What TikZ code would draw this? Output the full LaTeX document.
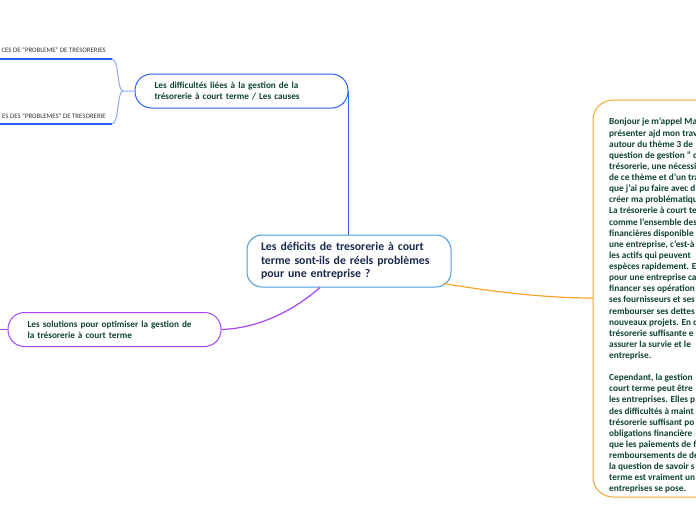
\documentclass[tikz,border=0pt]{standalone}
\usepackage{fontspec}
\setmainfont{Carlito}
\usetikzlibrary{calc}
\definecolor{cblue}{HTML}{4A9ADB}
\definecolor{dblue}{HTML}{2C5EF5}
\definecolor{lblue}{HTML}{8AA8FF}
\definecolor{ppl}{HTML}{A546F2}
\definecolor{org}{HTML}{F7A531}
\definecolor{navy}{HTML}{1B2A4E}
\definecolor{dgreen}{HTML}{0E4430}
\definecolor{lgrey}{HTML}{333333}
\tikzset{
  centralbox/.style={draw=cblue, line width=1pt, rounded corners=15pt, fill=white,
    minimum width=204pt, minimum height=52pt, inner xsep=14pt, inner ysep=0pt,
    text width=176pt, align=left, text=navy,
    font=\fontsize{11.8}{13.5}\selectfont\bfseries},
  topicbox/.style={draw=#1, line width=1pt, rounded corners=16.5pt, fill=white,
    minimum width=213pt, minimum height=34pt, inner xsep=19.5pt, inner ysep=0pt,
    text width=174pt, align=left, text=dgreen,
    font=\fontsize{9.2}{11}\selectfont\bfseries},
  sublabel/.style={inner sep=0pt, text=lgrey, font=\fontsize{6.8}{7}\selectfont},
  bodytext/.style={inner sep=0pt, align=left, text=dgreen,
    font=\fontsize{9.3}{11.12}\selectfont\bfseries},
}
\begin{document}
\begin{tikzpicture}[x=1pt,y=-1pt]
\useasboundingbox (0,0) rectangle (696,520);
\clip (0,0) rectangle (696,520);
\fill[white] (0,0) rectangle (696,520);

% right node (clipped at the picture edge)
\draw[org, line width=1pt, rounded corners=20pt] (740,100) -- (593,100) -- (593,497) -- (740,497);
\node[bodytext, anchor=north west] (r) at (609,118) {Bonjour je m'appel Ma\\
présenter ajd mon trav\\
autour du thème 3 de\\
question de gestion " c\\
trésorerie, une nécessi\\
de ce thème et d'un tra\\
que j'ai pu faire avec d\\
créer ma problématiqu\\
La trésorerie à court te\\
comme l'ensemble des\\
financières disponible\\
une entreprise, c'est-à\\
les actifs qui peuvent\\
espèces rapidement. E\\
pour une entreprise ca\\
financer ses opération\\
ses fournisseurs et ses\\
rembourser ses dettes\\
nouveaux projets. En c\\
trésorerie suffisante e\\
assurer la survie et le\\
entreprise.\\[11.12pt]
Cependant, la gestion\\
court terme peut être\\
les entreprises. Elles p\\
des difficultés à maint\\
trésorerie suffisant po\\
obligations financière\\
que les paiements de f\\
remboursements de de\\
la question de savoir s\\
terme est vraiment un\\
entreprises se pose.};
\coordinate (rl) at (593,298);

% topic nodes
\node[centralbox] (c) at (349,261) {\raisebox{-3pt}{\parbox[b]{176pt}{Les déficits de tresorerie à court\\terme sont-ils de réels problèmes\\pour une entreprise ?}}};
\node[topicbox=dblue] (d) at (241.5,91) {Les difficultés liées à la gestion de la\\trésorerie à court terme / Les causes};
\node[topicbox=ppl] (s) at (114.5,329.5) {Les solutions pour optimiser la gestion de\\la trésorerie à court terme};

% sub labels
\node[sublabel, anchor=base east] (l1) at (106,52.5) {CES DE "PROBLEME" DE TRESORERIES};
\node[sublabel, anchor=base east] (l2) at (106,118.5) {ES DES "PROBLEMES" DE TRESORERIE};
\coordinate (u1) at (0,59);
\coordinate (u2) at (0,124);
\coordinate (k) at (123,91);
\coordinate (sl) at (0,329.5);

% connectors
\draw[dblue, line width=1.6pt] (d.east) -- (d.east |- c.north);
\draw[lblue, line width=1pt] (d.west) -- (k) .. controls (117,91) and (119,59) .. (112,59);
\draw[lblue, line width=1pt] (k) .. controls (117,91) and (119,124) .. (112,124);
\draw[dblue, line width=1.2pt] (112,59) -- (u1);
\draw[dblue, line width=1.2pt] (112,124) -- (u2);
\draw[ppl, line width=1.2pt] (s.east) .. controls (265,328) and (300,305) .. ($(c.south)+(-29pt,0pt)$);
\draw[ppl, line width=1.2pt] (s.west) -- (sl);
\draw[org, line width=1.2pt] ($(c.south east)+(-8pt,4pt)$) .. controls (500,293) and (550,298) .. (rl);
\end{tikzpicture}
\end{document}
